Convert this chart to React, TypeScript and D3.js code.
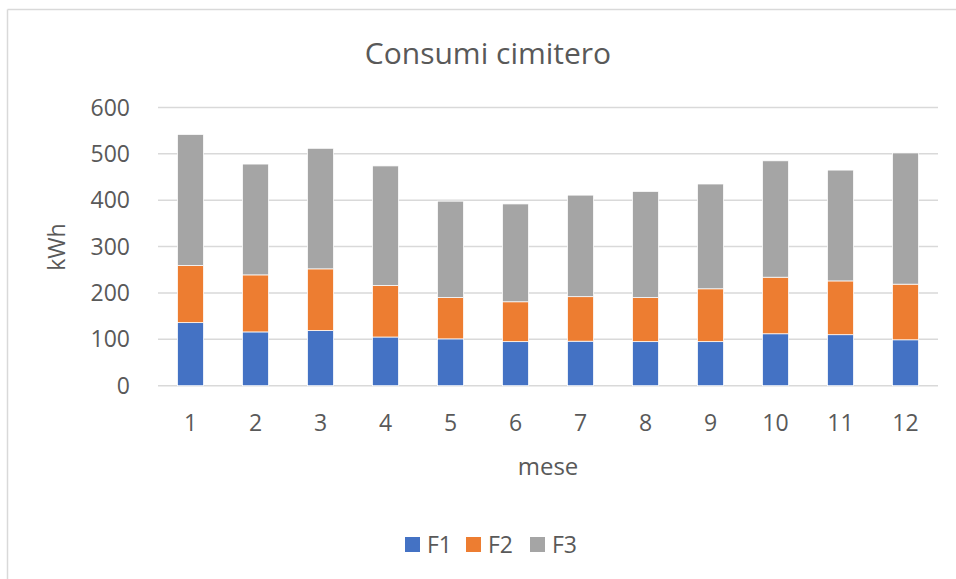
import React from "react";
import * as d3 from "d3";

const months = ["1", "2", "3", "4", "5", "6", "7", "8", "9", "10", "11", "12"];
const F1 = [136, 116, 119, 105, 101, 95, 96, 95, 95, 112, 110, 99];
const F2 = [123, 123, 133, 111, 89, 86, 96, 95, 114, 122, 116, 120];
const F3 = [283, 239, 260, 258, 208, 211, 219, 229, 226, 251, 239, 283];
const seriesNames = ["F1", "F2", "F3"];
const colors = ["#4472C4", "#ED7D31", "#A5A5A5"];
const yTicks = [0, 100, 200, 300, 400, 500, 600];

const W = 956;
const H = 579;
const FONT = "'Open Sans', sans-serif";
const TXT = "#595959";

export default function App() {
  const x = d3.scaleBand<string>().domain(months).range([158, 938]).paddingInner(0.6).paddingOuter(0.3);
  const y = d3.scaleLinear().domain([0, 600]).range([385.7, 107.5]);
  const rows = months.map((m, i) => ({ m, F1: F1[i], F2: F2[i], F3: F3[i] }));
  const stack = d3.stack<any>().keys(seriesNames)(rows);

  return (
    <svg width={W} height={H} style={{ position: "absolute", left: 0, top: 0, background: "#fff" }}>
      <rect x={0} y={0} width={W} height={H} fill="#fff" />
      <line x1={7.5} y1={9.5} x2={W} y2={9.5} stroke="#D9D9D9" strokeWidth={1.5} />
      <line x1={7.5} y1={9.5} x2={7.5} y2={H} stroke="#D9D9D9" strokeWidth={1.5} />
      <text x={488} y={64} textAnchor="middle" fontFamily={FONT} fontSize={30} fill={TXT}>
        Consumi cimitero
      </text>
      {yTicks.map((t) => (
        <g key={t}>
          <line x1={158} x2={938} y1={y(t)} y2={y(t)} stroke="#D9D9D9" strokeWidth={1.5} />
          <text x={130} y={y(t)} dy="0.35em" textAnchor="end" fontFamily={FONT} fontSize={23} fill={TXT}>
            {t}
          </text>
        </g>
      ))}
      {stack.map((s, si) => (
        <g key={si} fill={colors[si]}>
          {s.map((d, i) => (
            <rect
              key={i}
              x={x(months[i])}
              y={y(d[1])}
              width={x.bandwidth()}
              height={y(d[0]) - y(d[1])}
              stroke="#fff"
              strokeWidth={0.75}
            />
          ))}
        </g>
      ))}
      {months.map((m) => (
        <text key={m} x={(x(m) as number) + x.bandwidth() / 2} y={423} dy="0.35em" textAnchor="middle" fontFamily={FONT} fontSize={23} fill={TXT}>
          {m}
        </text>
      ))}
      <text transform={`translate(65,247) rotate(-90)`} textAnchor="middle" fontFamily={FONT} fontSize={23} fill={TXT}>
        kWh
      </text>
      <text x={548} y={475} textAnchor="middle" fontFamily={FONT} fontSize={24} fill={TXT}>
        mese
      </text>
      {seriesNames.map((n, i) => {
        const lx = [405, 466, 530][i];
        return (
          <g key={n}>
            <rect x={lx} y={537} width={15} height={15} fill={colors[i]} />
            <text x={lx + 22} y={545} dy="0.35em" fontFamily={FONT} fontSize={23} fill={TXT}>
              {n}
            </text>
          </g>
        );
      })}
    </svg>
  );
}
